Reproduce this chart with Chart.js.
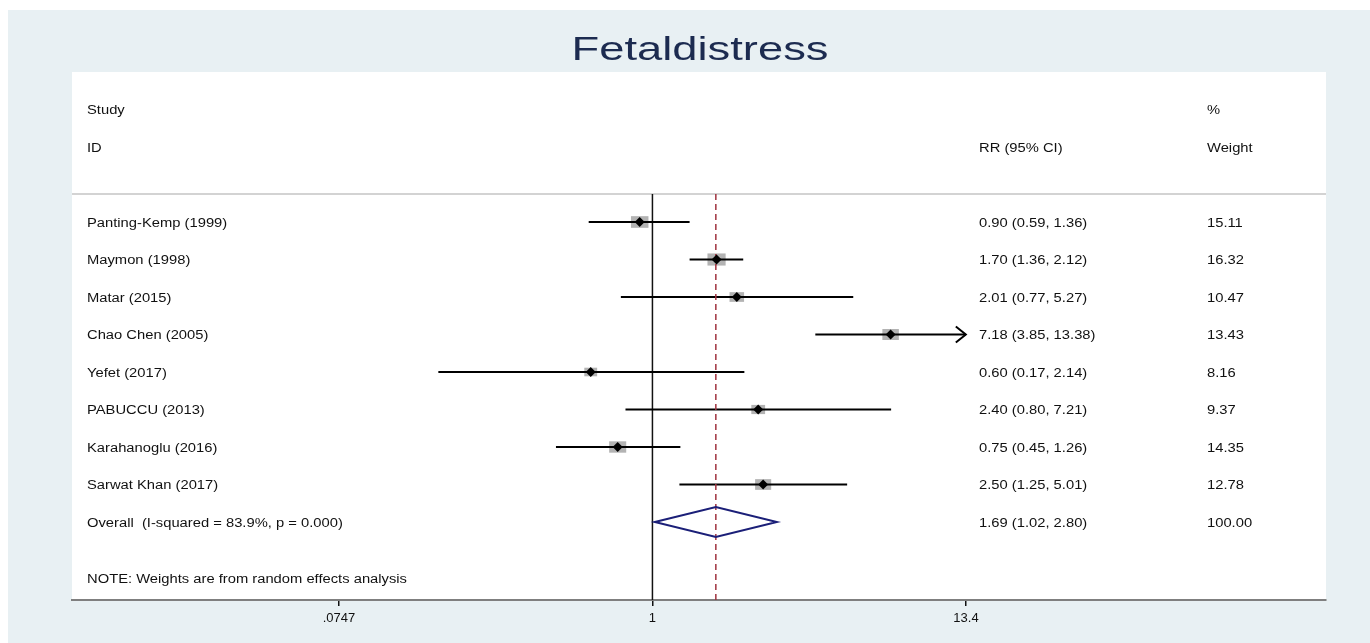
<!DOCTYPE html>
<html>
<head>
<meta charset="utf-8">
<title>Fetaldistress</title>
<script src="https://cdn.jsdelivr.net/npm/chart.js@4.4.0/dist/chart.umd.min.js"></script>
<style>
    html, body { margin: 0; padding: 0; background: #ffffff; }
    #panel { position: absolute; left: 8px; top: 10px; width: 1362px; height: 633px; background: #e8f0f3; }
    canvas { display: block; }
</style>
</head>
<body>
<div id="panel"><canvas id="forestChart" width="1362" height="633"></canvas></div>
<script>
// Forest plot - Fetaldistress, RR with 95% CI (random effects)

const studies = ['Panting-Kemp (1999)', 'Maymon (1998)', 'Matar (2015)', 'Chao Chen (2005)', 'Yefet (2017)', 'PABUCCU (2013)', 'Karahanoglu (2016)', 'Sarwat Khan (2017)'];
const rr = [0.90, 1.70, 2.01, 7.18, 0.60, 2.40, 0.75, 2.50];
const ciLow = [0.59, 1.36, 0.77, 3.85, 0.17, 0.80, 0.45, 1.25];
const ciHigh = [1.36, 2.12, 5.27, 13.38, 2.14, 7.21, 1.26, 5.01];
const weights = [15.11, 16.32, 10.47, 13.43, 8.16, 9.37, 14.35, 12.78];
const clippedRight = [false, false, false, true, false, false, false, false];

const overallLabel = 'Overall  (I-squared = 83.9%, p = 0.000)';
const overallRR = [1.69, 1.02, 2.80]; // estimate, low, high
const overallWeight = '100.00';
const noteText = 'NOTE: Weights are from random effects analysis';

const xTickValues = [0.0747, 1, 13.4];
const xTickLabels = ['.0747', '1', '13.4'];

const FONT_FAMILY = '"Liberation Sans", Arial, sans-serif';
const TEXT_FONT = '12.5px ' + FONT_FAMILY;
const TEXT_COLOR = '#111111';
const TEXT_SX = 1.18;
const TEXT_DY = 1.5;

const fmt = v => v.toFixed(2);

function stretchedText(ctx, text, x, y, align, sx) {
    ctx.save();
    ctx.translate(x, y + TEXT_DY);
    ctx.scale(sx, 1);
    ctx.textAlign = align;
    ctx.textBaseline = 'middle';
    ctx.fillText(text, 0, 0);
    ctx.restore();
}

const forestPlugin = {
    id: 'forest',
    beforeDraw(chart) {
        const { ctx, chartArea } = chart;
        ctx.save();
        ctx.fillStyle = '#ffffff';
        ctx.fillRect(chartArea.left, chartArea.top, chartArea.right - chartArea.left, chartArea.bottom - chartArea.top);
        ctx.restore();
    },
    beforeDatasetsDraw(chart) {
        const { ctx, chartArea, scales } = chart;
        const x = scales.x, y = scales.y;
        const headerY = y.getPixelForValue(-0.75);
        ctx.save();

        // header separator
        ctx.strokeStyle = '#c4c4c4';
        ctx.lineWidth = 1.5;
        ctx.beginPath();
        ctx.moveTo(chartArea.left, headerY);
        ctx.lineTo(chartArea.right, headerY);
        ctx.stroke();

        // null line
        ctx.strokeStyle = '#111111';
        ctx.lineWidth = 1.5;
        ctx.beginPath();
        ctx.moveTo(x.getPixelForValue(1), headerY);
        ctx.lineTo(x.getPixelForValue(1), chartArea.bottom);
        ctx.stroke();

        // weight boxes
        ctx.fillStyle = '#b3b3b3';
        rr.forEach((v, i) => {
            const h = 3.0 * Math.sqrt(weights[i]);
            const w = 1.5 * h;
            const px = x.getPixelForValue(v);
            const py = y.getPixelForValue(i);
            ctx.fillRect(px - w / 2, py - h / 2, w, h);
        });

        // confidence intervals
        ctx.strokeStyle = '#000000';
        ctx.lineWidth = 2;
        rr.forEach((v, i) => {
            const py = y.getPixelForValue(i);
            const x0 = x.getPixelForValue(ciLow[i]);
            const x1 = x.getPixelForValue(ciHigh[i]);
            ctx.beginPath();
            ctx.moveTo(x0, py);
            ctx.lineTo(x1, py);
            ctx.stroke();
            if (clippedRight[i]) {
                ctx.beginPath();
                ctx.moveTo(x1 - 10, py - 8);
                ctx.lineTo(x1, py);
                ctx.lineTo(x1 - 10, py + 8);
                ctx.stroke();
            }
        });

        // overall effect line
        ctx.strokeStyle = '#a0333f';
        ctx.lineWidth = 1.5;
        ctx.setLineDash([6, 4]);
        ctx.beginPath();
        ctx.moveTo(x.getPixelForValue(overallRR[0]), headerY);
        ctx.lineTo(x.getPixelForValue(overallRR[0]), chartArea.bottom);
        ctx.stroke();
        ctx.restore();
    },
    afterDatasetsDraw(chart) {
        const { ctx, chartArea, scales } = chart;
        const x = scales.x, y = scales.y;
        const row = studies.length;
        ctx.save();

        // pooled diamond
        ctx.strokeStyle = '#1b1f78';
        ctx.lineWidth = 2;
        ctx.beginPath();
        ctx.moveTo(x.getPixelForValue(overallRR[1]), y.getPixelForValue(row));
        ctx.lineTo(x.getPixelForValue(overallRR[0]), y.getPixelForValue(row - 0.4));
        ctx.lineTo(x.getPixelForValue(overallRR[2]), y.getPixelForValue(row));
        ctx.lineTo(x.getPixelForValue(overallRR[0]), y.getPixelForValue(row + 0.4));
        ctx.closePath();
        ctx.stroke();

        // text columns
        const colLabel = chartArea.left + 15;
        const colRR = chartArea.left + 907;
        const colW = chartArea.left + 1135;
        ctx.font = TEXT_FONT;
        ctx.fillStyle = TEXT_COLOR;
        stretchedText(ctx, 'Study', colLabel, y.getPixelForValue(-3), 'left', TEXT_SX);
        stretchedText(ctx, 'ID', colLabel, y.getPixelForValue(-2), 'left', TEXT_SX);
        stretchedText(ctx, '%', colW, y.getPixelForValue(-3), 'left', TEXT_SX);
        stretchedText(ctx, 'Weight', colW, y.getPixelForValue(-2), 'left', TEXT_SX);
        stretchedText(ctx, 'RR (95% CI)', colRR, y.getPixelForValue(-2), 'left', TEXT_SX);

        studies.forEach((name, i) => {
            const py = y.getPixelForValue(i);
            stretchedText(ctx, name, colLabel, py, 'left', TEXT_SX);
            stretchedText(ctx, `${fmt(rr[i])} (${fmt(ciLow[i])}, ${fmt(ciHigh[i])})`, colRR, py, 'left', TEXT_SX);
            stretchedText(ctx, fmt(weights[i]), colW, py, 'left', TEXT_SX);
        });

        const py = y.getPixelForValue(row);
        stretchedText(ctx, overallLabel, colLabel, py, 'left', TEXT_SX);
        stretchedText(ctx, `${fmt(overallRR[0])} (${fmt(overallRR[1])}, ${fmt(overallRR[2])})`, colRR, py, 'left', TEXT_SX);
        stretchedText(ctx, overallWeight, colW, py, 'left', TEXT_SX);
        stretchedText(ctx, noteText, colLabel, y.getPixelForValue(row + 1.5), 'left', TEXT_SX);
        ctx.restore();
    },
    afterDraw(chart) {
        const { ctx } = chart;
        const title = 'Fetaldistress';
        ctx.save();
        ctx.font = '33px ' + FONT_FAMILY;
        ctx.fillStyle = '#1c2b50';
        const sx = 257 / ctx.measureText(title).width;
        stretchedText(ctx, title, 692, 39, 'center', sx);
        ctx.restore();
    }
};

const ctx = document.getElementById('forestChart').getContext('2d');
const forestChart = new Chart(ctx, {
    type: 'scatter',
    data: {
        datasets: [{
            label: 'RR',
            data: rr.map((v, i) => ({ x: v, y: i })),
            pointStyle: 'rectRot',
            pointRadius: 5,
            pointHoverRadius: 5,
            backgroundColor: '#000000',
            borderColor: '#000000',
            borderWidth: 0
        }]
    },
    options: {
        responsive: false,
        animation: false,
        layout: {
            padding: { left: 64, right: 44, top: 62, bottom: 13 }
        },
        plugins: {
            legend: { display: false },
            tooltip: { enabled: false },
            title: { display: false }
        },
        scales: {
            x: {
                type: 'logarithmic',
                bounds: 'data',
                min: 0.008196,
                max: 263.7,
                afterBuildTicks: scale => {
                    scale.ticks = xTickValues.map(v => ({ value: v }));
                },
                afterFit: scale => {
                    scale.height = 30;
                },
                ticks: {
                    autoSkip: false,
                    maxRotation: 0,
                    padding: 5,
                    color: TEXT_COLOR,
                    font: { family: FONT_FAMILY, size: 13 },
                    callback: (value, index) => xTickLabels[index]
                },
                grid: {
                    display: true,
                    drawOnChartArea: false,
                    drawTicks: true,
                    tickLength: 6,
                    color: '#111111',
                    lineWidth: 1.5
                },
                border: {
                    display: true,
                    color: '#7f7f7f',
                    width: 2
                }
            },
            y: {
                type: 'linear',
                display: false,
                reverse: true,
                min: -4,
                max: 10.08
            }
        }
    },
    plugins: [forestPlugin]
});
</script>
</body>
</html>
